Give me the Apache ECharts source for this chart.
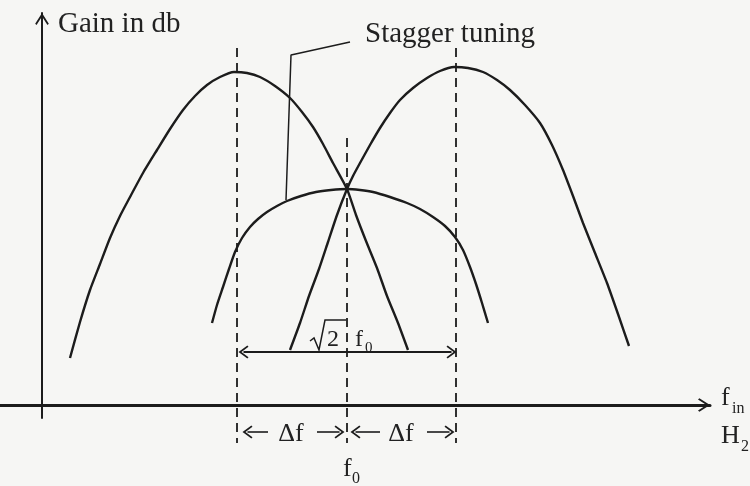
<!DOCTYPE html>
<html>
<head>
<meta charset="utf-8">
<title>Stagger tuning</title>
<script src="https://cdn.jsdelivr.net/npm/echarts@6/dist/echarts.min.js"></script>
<style>
  html, body { margin: 0; padding: 0; background: #f6f6f4; }
  #chart { width: 750px; height: 486px; }
</style>
</head>
<body>
<div id="chart"></div>
<script>
// frequency / gain (arbitrary units, y-axis at f = 0)
const leftTunedF = [2.8, 3.8, 4.8, 5.8, 6.8, 7.8, 8.8, 10.1, 11.5, 12.8, 14.1, 15.3, 16.5, 17.8, 19.2,
  20.5, 21.8, 23.3, 24.8, 26.0, 27.1, 28.1, 29.1, 30.5, 31.4, 32.4, 33.5, 34.5, 35.6, 36.6];
const leftTunedGain = [4.7, 8.3, 11.5, 14.1, 16.7, 18.9, 20.8, 23.2, 25.5, 27.6, 29.5, 30.9, 32.0, 32.8, 33.3,
  33.2, 32.8, 31.9, 30.7, 29.3, 27.8, 26.1, 24.2, 21.6, 19.0, 16.4, 13.7, 10.9, 8.2, 5.5];

const rightTunedF = [24.8, 25.8, 26.7, 27.7, 28.6, 29.5, 30.5, 31.1, 31.8, 32.8, 33.8, 34.8, 35.8, 37.1, 38.5, 39.8,
  41.2, 42.6, 44.1, 45.5, 46.8, 48.3, 49.8, 51.0, 52.1, 53.1, 54.1, 55.3, 56.5, 57.6, 58.7];
const rightTunedGain = [5.5, 8.2, 10.9, 13.6, 16.3, 19.0, 21.6, 22.9, 24.2, 26.0, 27.7, 29.2, 30.5, 31.7, 32.7, 33.4,
  33.8, 33.7, 33.3, 32.5, 31.5, 30.0, 28.2, 26.0, 23.5, 20.9, 18.2, 15.2, 12.2, 9.1, 5.9];

const staggerF = [17.0, 17.5, 18.1, 18.7, 19.3, 20.0, 20.8, 21.6, 22.5, 23.5, 24.5, 25.9, 27.4, 28.9, 30.5,
  31.8, 33.1, 34.8, 36.5, 37.8, 39.1, 40.3, 41.3, 42.1, 42.8, 43.4, 44.0, 44.6];
const staggerGain = [8.2, 10.0, 11.8, 13.6, 15.3, 16.7, 17.8, 18.6, 19.3, 19.9, 20.4, 20.9, 21.3, 21.5, 21.6,
  21.5, 21.3, 20.8, 20.2, 19.6, 18.8, 17.9, 16.8, 15.5, 13.8, 12.1, 10.2, 8.2];

// pointer line for the "Stagger tuning" label
const leaderF = [30.8, 24.9, 24.4];
const leaderGain = [36.3, 35.0, 20.5];

// dashed guides at f0 - Δf, f0, f0 + Δf
const guideF = [19.5, 30.5, 41.4];
const guideTop = [35.7, 26.7, 35.7];
const guideBottom = -3.8;

// √2 f0 bandwidth arrow
const bandF = [19.6, 41.5];
const bandGain = 5.3;

// Δf arrows (tail -> tip)
const deltaTail = [22.6, 27.5, 33.8, 38.5];
const deltaTip = [20.0, 30.3, 30.8, 41.3];
const deltaGain = -2.7;

const INK = "#1c1c1c";
const SERIF = "Liberation Serif";
const chevron = "path://M50,0 L100,78 L90,88 L50,26 L10,88 L0,78 Z";
const headShift = 0.55; // half an arrow head, in f units

const zip = (xs, ys) => xs.map((x, i) => [x, ys[i]]);

function curve(name, xs, ys) {
  return {
    name: name,
    type: "line",
    data: zip(xs, ys),
    smooth: 0.2,
    showSymbol: false,
    lineStyle: { color: INK, width: 2.4 },
    silent: true
  };
}

function label(text, x, baseline, size, align) {
  return {
    type: "text",
    x: x,
    y: baseline - size * 0.34,
    silent: true,
    style: {
      text: text,
      font: size + "px '" + SERIF + "'",
      fill: "#222",
      textAlign: align || "left",
      textVerticalAlign: "middle"
    }
  };
}

const guideSeries = guideF.map((f, i) => ({
  type: "line",
  data: [[f, guideTop[i]], [f, guideBottom]],
  showSymbol: false,
  clip: false,
  silent: true,
  lineStyle: { color: INK, width: 1.8, type: [9, 6] }
}));

// Δf arrows sit below the frequency axis, so they are drawn as unclipped line series
const deltaSeries = deltaTail.map((t, i) => {
  const dir = deltaTip[i] > t ? 1 : -1;
  return {
    type: "line",
    clip: false,
    silent: true,
    showSymbol: true,
    lineStyle: { color: INK, width: 1.6 },
    itemStyle: { color: INK },
    data: [
      { value: [t, deltaGain], symbol: "none" },
      {
        value: [deltaTip[i] - dir * headShift, deltaGain],
        symbol: chevron,
        symbolSize: [13, 10],
        symbolRotate: dir > 0 ? -90 : 90
      }
    ]
  };
});

const chart = echarts.init(document.getElementById("chart"));
chart.setOption({
  backgroundColor: "#f6f6f4",
  animation: false,
  grid: { left: 0, right: 40, top: 13, bottom: 68 },
  xAxis: {
    type: "value",
    min: -4.2,
    max: 66.8,
    axisLine: {
      onZero: true,
      symbol: ["none", chevron],
      symbolSize: [18, 12],
      symbolOffset: [0, -6],
      lineStyle: { color: INK, width: 3 }
    },
    axisTick: { show: false },
    axisLabel: { show: false },
    splitLine: { show: false }
  },
  yAxis: {
    type: "value",
    min: -1.3,
    max: 39.2,
    axisLine: {
      onZero: true,
      symbol: ["none", chevron],
      symbolSize: [15, 12],
      symbolOffset: [0, -6],
      lineStyle: { color: INK, width: 2 }
    },
    axisTick: { show: false },
    axisLabel: { show: false },
    splitLine: { show: false }
  },
  series: [
    curve("f0 - Δf", leftTunedF, leftTunedGain),
    curve("f0 + Δf", rightTunedF, rightTunedGain),
    Object.assign(curve("Stagger tuning", staggerF, staggerGain), {
      markLine: {
        silent: true,
        symbolSize: [13, 10],
        label: { show: false },
        lineStyle: { color: INK, width: 1.8, type: "solid" },
        data: [[
          { coord: [bandF[0] + headShift, bandGain], symbol: chevron },
          { coord: [bandF[1] - headShift, bandGain], symbol: chevron }
        ]]
      }
    }),
    {
      type: "line",
      data: zip(leaderF, leaderGain),
      showSymbol: false,
      silent: true,
      lineStyle: { color: INK, width: 1.5 }
    }
  ].concat(guideSeries, deltaSeries),
  graphic: [
    label("Gain in db", 58, 34, 29),
    label("Stagger tuning", 365, 44, 29),
    label("f", 721, 407, 26),
    label("in", 732, 414, 16),
    label("H", 721, 445, 26),
    label("2", 741, 452, 16),
    label("2", 327, 348, 24),
    label("f", 355, 348, 24),
    label("0", 365, 353, 15),
    label("Δf", 291, 443, 26, "center"),
    label("Δf", 401, 443, 26, "center"),
    label("f", 343, 478, 26),
    label("0", 352, 484, 16),
    {
      type: "polyline",
      silent: true,
      shape: { points: [[310, 341], [314, 338], [319, 350], [325, 320], [346, 320]] },
      style: { stroke: INK, lineWidth: 1.5, fill: null }
    }
  ]
});
</script>
</body>
</html>
